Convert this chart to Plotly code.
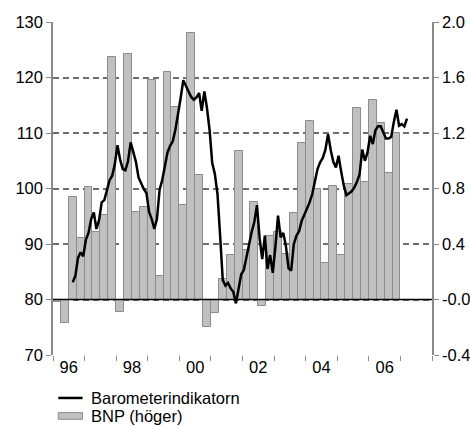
import plotly.graph_objects as go

# ---- data ----
# BNP (höger): quarterly, 1996Q1 .. 2006Q4
bnp_start_year = 1996
bnp = [-0.02, -0.17, 0.74, 0.44, 0.81, 0.49, 0.61, 1.75,
       -0.09, 1.77, 0.63, 0.67, 1.58, 0.17, 1.64, 1.39,
       0.68, 1.92, 0.90, -0.20, -0.10, 0.15, 0.32, 1.07,
       0.36, 0.70, -0.05, 0.46, 0.49, 0.33, 0.62, 1.13,
       1.29, 0.80, 0.26, 0.82, 0.32, 0.83, 1.38, 0.85,
       1.44, 1.27, 0.91, 1.20]

# Barometerindikatorn: monthly, Aug 1996 .. Mar 2007
baro_start_month = 7  # months after Jan 1996
baro = [83.1, 84.3, 87.5, 88.5, 87.8, 90.8, 92.0, 94.5, 95.7, 92.7,
        94.3, 97.5, 97.9, 99.6, 101.5, 102.3, 104.4, 107.8, 105.2, 103.5,
        103.3, 104.9, 108.3, 106.6, 104.8, 102.0, 100.8, 99.9, 99.2, 95.8,
        94.5, 92.7, 94.5, 99.8, 101.5, 104.0, 106.5, 107.7, 108.5, 110.6,
        113.3, 116.3, 119.5, 118.5, 117.2, 116.5, 116.0, 116.4, 117.2, 114.0,
        117.5, 114.5, 110.5, 104.6, 102.6, 99.0, 91.5, 83.5, 82.5, 83.0,
        82.0, 81.4, 79.3, 81.8, 84.5, 85.3, 87.5, 90.3, 92.2, 94.0,
        97.0, 91.0, 87.3, 91.5, 85.5, 88.0, 84.8, 89.5, 95.1, 91.2,
        92.0, 89.6, 85.6, 85.2, 90.0, 91.5, 92.3, 94.2, 95.3, 96.6,
        97.5, 99.0, 101.0, 103.5, 104.7, 105.5, 107.0, 109.8, 107.0, 104.8,
        103.8, 105.9, 103.0, 100.5, 98.8, 99.1, 99.5, 100.2, 101.2, 102.6,
        107.0, 105.0, 106.5, 109.5, 108.0, 110.5, 111.2, 111.2, 110.0, 109.0,
        109.0, 109.3, 112.0, 114.2, 111.3, 111.6, 111.2, 112.6]

year_ticks = list(range(1996, 2009))
label_years = [1996, 1998, 2000, 2002, 2004, 2006]
label_text = ["96", "98", "00", "02", "04", "06"]

left_ticks = [70, 80, 90, 100, 110, 120, 130]
right_ticks = [-0.4, 0.0, 0.4, 0.8, 1.2, 1.6, 2.0]
right_text = ["-0.4", "-0.0", "0.4", "0.8", "1.2", "1.6", "2.0"]

# ---- derived positions ----
bnp_x = [bnp_start_year + (i + 0.5) * 0.25 for i in range(len(bnp))]
baro_x = [1996 + (baro_start_month + i + 0.5) / 12 for i in range(len(baro))]

FONT = "Liberation Sans, Arial, sans-serif"
FS = 16.5
GRID = "#6e6e6e"
AXIS = "#8a8a8a"

fig = go.Figure()
# bars on the right-hand axis (base subplot), line on the overlaid left axis
fig.add_trace(go.Bar(
    x=bnp_x, y=bnp, width=0.25, yaxis="y", name="BNP (höger)",
    marker=dict(color="#c0c0c0", line=dict(color="#8c8c8c", width=1)),
    showlegend=False,
))
fig.add_trace(go.Scatter(
    x=baro_x, y=baro, mode="lines", yaxis="y2", name="Barometerindikatorn",
    line=dict(color="#000000", width=2.5), showlegend=False,
))

# zero line of the right axis (= 80 on the left)
fig.add_shape(type="line", xref="paper", yref="y", x0=0, x1=1, y0=0, y1=0,
              line=dict(color="#000000", width=1.3), layer="above")

# legend drawn manually
fig.add_shape(type="line", xref="paper", yref="paper",
              x0=0.014, x1=0.078, y0=-0.129, y1=-0.129,
              line=dict(color="#000000", width=2.5))
fig.add_shape(type="rect", xref="paper", yref="paper",
              x0=0.014, x1=0.078, y0=-0.193, y1=-0.173,
              line=dict(color="#8c8c8c", width=1), fillcolor="#c0c0c0")
fig.add_annotation(x=0.094, y=-0.129, xref="paper", yref="paper",
                   text="Barometerindikatorn", showarrow=False,
                   xanchor="left", yanchor="middle",
                   font=dict(family=FONT, size=FS, color="#000"))
fig.add_annotation(x=0.094, y=-0.183, xref="paper", yref="paper",
                   text="BNP (höger)", showarrow=False,
                   xanchor="left", yanchor="middle",
                   font=dict(family=FONT, size=FS, color="#000"))

fig.update_layout(
    width=470, height=426,
    margin=dict(l=53, r=38, t=22, b=71, autoexpand=False),
    paper_bgcolor="white", plot_bgcolor="white",
    bargap=0, showlegend=False,
    font=dict(family=FONT, size=FS, color="#000"),
    xaxis=dict(
        range=[1996, 2008], automargin=False,
        tickmode="array",
        tickvals=[y + 0.5 for y in label_years],
        ticktext=label_text,
        ticks="", showgrid=False, zeroline=False, showline=False,
        minor=dict(tickmode="array", tickvals=year_ticks, ticks="outside",
                   ticklen=5, tickwidth=1, tickcolor=AXIS, showgrid=False),
        tickfont=dict(size=FS),
    ),
    yaxis=dict(
        range=[-0.4, 2.0], side="right", automargin=False,
        tickmode="array", tickvals=right_ticks, ticktext=right_text,
        ticks="outside", ticklen=5, tickcolor=AXIS,
        showline=True, linecolor=AXIS, linewidth=1.5,
        showgrid=False, zeroline=False, tickfont=dict(size=FS),
    ),
    yaxis2=dict(
        range=[70, 130], overlaying="y", side="left", automargin=False,
        tickmode="array", tickvals=left_ticks,
        ticks="outside", ticklen=5, tickcolor=AXIS,
        showline=True, linecolor=AXIS, linewidth=1.5,
        showgrid=True, gridcolor=GRID, gridwidth=1.5, griddash="6px,4px",
        zeroline=False, tickfont=dict(size=FS),
    ),
)

# remove the default page margin so the figure fills the window exactly
fig.write_html(
    "out.html",
    config={"displayModeBar": False},
    post_script="document.body.style.margin='0';"
                "document.body.style.overflow='hidden';",
)
